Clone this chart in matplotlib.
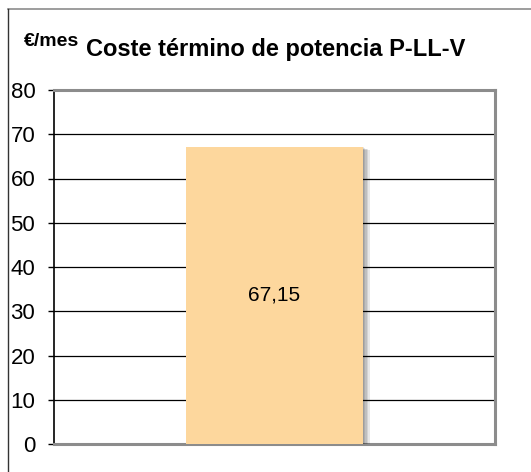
import matplotlib
matplotlib.use("Agg")
import matplotlib.pyplot as plt
import matplotlib.patheffects as pe
from matplotlib.lines import Line2D

plt.rcParams["font.family"] = ["Liberation Sans", "DejaVu Sans"]

categories = ["P-LL-V"]
values = [67.15]
value_labels = ["67,15"]
y_ticks = [0, 10, 20, 30, 40, 50, 60, 70, 80]

W, H = 531, 472
fig = plt.figure(figsize=(W / 100, H / 100), dpi=100)

# outer chart frame (only top and left edges are visible)
fig.add_artist(Line2D([8 / W, 1.0], [1 - 9 / H, 1 - 9 / H], transform=fig.transFigure, color="#8c8c8c", lw=1.2))
fig.add_artist(Line2D([8 / W, 8 / W], [0.0, 1 - 9 / H], transform=fig.transFigure, color="#333333", lw=1.0))

left, right, top, bottom = 54, 495, 90, 444
ax = fig.add_axes([left / W, 1 - bottom / H, (right - left) / W, (bottom - top) / H])

ax.set_ylim(0, 80)
ax.set_xlim(-0.5, 0.5)
ax.set_yticks(y_ticks)
ax.set_xticks([])
ax.grid(axis="y", color="black", lw=0.9)
ax.set_axisbelow(True)

shadows = [pe.SimplePatchShadow(offset=(d, -d * 0.4), shadow_rgbFace="#000000", alpha=0.09) for d in (1, 2, 3, 4, 5)]
bars = ax.bar(range(len(values)), values, width=0.4, color="#fdd79d", zorder=3,
              path_effects=shadows + [pe.Normal()])
for b, lab in zip(bars, value_labels):
    ax.text(b.get_x() + b.get_width() / 2, b.get_height() / 2, lab,
            ha="center", va="center", fontsize=15, zorder=4)

for s in ("top", "right", "bottom"):
    ax.spines[s].set_color("#8c8c8c")
    ax.spines[s].set_linewidth(2.2)
ax.spines["left"].set_color("black")
ax.spines["left"].set_linewidth(1.2)
ax.tick_params(axis="y", direction="out", length=4.5, width=1, labelsize=16, pad=9)
for t in ax.get_yticklabels():
    t.set_horizontalalignment("right")

fig.text(24 / W, 1 - 46 / H, "€/mes", fontsize=14, fontweight="bold", ha="left", va="baseline")
fig.text(86 / W, 1 - 56 / H, "Coste término de potencia P-LL-V", fontsize=17, fontweight="bold",
         ha="left", va="baseline")

fig.savefig("out.png", dpi=100)
